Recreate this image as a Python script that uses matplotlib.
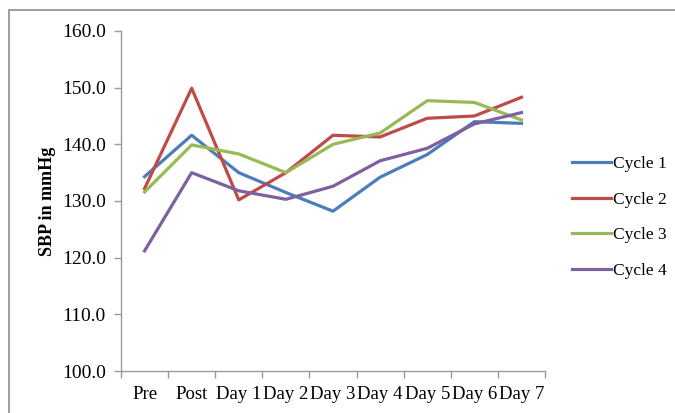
import matplotlib.pyplot as plt
from matplotlib.patches import Rectangle

plt.rcParams['font.family'] = ['Liberation Serif', 'DejaVu Serif']

dni = ['Pre', 'Post', 'Day 1', 'Day 2', 'Day 3', 'Day 4', 'Day 5', 'Day 6', 'Day 7']
cykl_1 = [134.3, 141.6, 135.0, 131.5, 128.2, 134.2, 138.2, 144.0, 143.7]
cykl_2 = [132.2, 149.9, 130.2, 135.0, 141.6, 141.3, 144.6, 145.0, 148.3]
cykl_3 = [131.6, 139.9, 138.3, 135.0, 140.0, 142.0, 147.7, 147.4, 144.3]
cykl_4 = [121.2, 135.0, 131.8, 130.3, 132.6, 137.1, 139.3, 143.6, 145.6]
nazwy = ['Cycle 1', 'Cycle 2', 'Cycle 3', 'Cycle 4']
kolory = ['#4A7EBB', '#BE4B48', '#98B954', '#7D60A0']

fig = plt.figure(figsize=(6.75, 4.13), dpi=100)
ax = fig.add_axes([121 / 675, 42 / 413, 424 / 675, 340 / 413])

x = list(range(len(dni)))
for seria, nazwa, kolor in zip([cykl_1, cykl_2, cykl_3, cykl_4], nazwy, kolory):
    ax.plot(x, seria, color=kolor, linewidth=2.3, label=nazwa)

ax.set_xlim(-0.5, len(dni) - 0.5)
ax.set_ylim(100, 160)
ax.set_yticks(range(100, 161, 10))
ax.set_yticklabels(['%.1f' % v for v in range(100, 161, 10)], fontsize=14)

# kreski osi X na granicach kategorii, podpisy na srodku
ax.set_xticks([i - 0.5 for i in range(len(dni) + 1)])
ax.set_xticklabels([])
ax.set_xticks(x, minor=True)
ax.set_xticklabels(dni, minor=True, fontsize=13.5)
ax.tick_params(axis='x', which='minor', length=0, pad=11)
ax.tick_params(axis='both', which='major', color='#9a9a9a', length=5, width=1)
ax.tick_params(axis='y', pad=6)

for s in ['top', 'right']:
    ax.spines[s].set_visible(False)
for s in ['left', 'bottom']:
    ax.spines[s].set_color('#9a9a9a')
    ax.spines[s].set_linewidth(1)

ax.set_ylabel('SBP in mmHg', fontsize=13, fontweight='bold', labelpad=4)

ax.legend(loc='upper left', bbox_to_anchor=(572 / 675, (413 - 156) / 413), bbox_transform=fig.transFigure,
          frameon=False, fontsize=12.5, handlelength=2.25, handletextpad=0.1, labelspacing=1.12,
          borderpad=0, borderaxespad=0)

ramka = Rectangle((9 / 675, -0.1), 0.995, (413 - 10) / 413 + 0.1, transform=fig.transFigure,
                  fill=False, edgecolor='#8c8c8c', linewidth=1.2)
fig.patches.append(ramka)

plt.savefig('out.png', dpi=100)
